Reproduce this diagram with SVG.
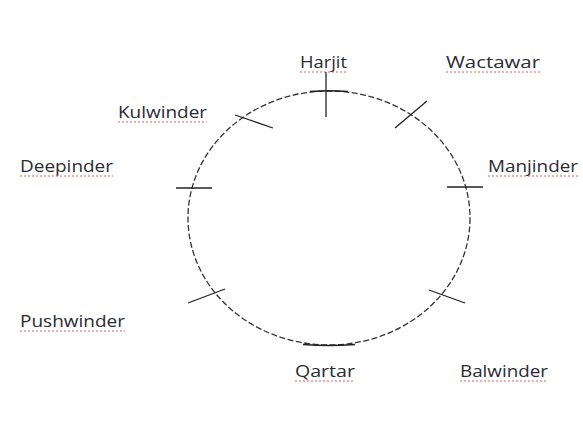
<svg xmlns="http://www.w3.org/2000/svg" width="583" height="437" viewBox="0 0 583 437">
<style>
.lbl{font-family:"Open Sans","Liberation Sans",Arial,sans-serif;font-size:16.5px;fill:#2a2a33}
.sq{stroke:#e06060;stroke-width:1;stroke-dasharray:2 2;fill:none}
.tick{stroke:#222;stroke-width:1.3;fill:none}
.ring{stroke:#333;stroke-width:1.3;fill:none;stroke-dasharray:6 2.5}
</style>
<rect width="583" height="437" fill="#fff"/>
<g id="connectors">
<ellipse class="ring" cx="329" cy="218" rx="141" ry="127"/>
<path class="tick" d="M303 344.5 Q329 346.5 355 344.5"/>
<path class="tick" d="M310 91.5 Q329 90 348 91.5"/>
</g>
<g id="Harjit"><text class="lbl" x="300" y="68" textLength="47" lengthAdjust="spacingAndGlyphs">Harjit</text><path class="sq" d="M300 72 H347"/><path class="tick" d="M326 72 V117"/></g>
<g id="Wactawar"><text class="lbl" x="446" y="68" textLength="94" lengthAdjust="spacingAndGlyphs">Wactawar</text><path class="sq" d="M446 72 H540"/><path class="tick" d="M427 101 L395 128"/></g>
<g id="Manjinder"><text class="lbl" x="488" y="172" textLength="90" lengthAdjust="spacingAndGlyphs">Manjinder</text><path class="sq" d="M488 176 H578"/><path class="tick" d="M447 187 H483"/></g>
<g id="Balwinder"><text class="lbl" x="460" y="377" textLength="88" lengthAdjust="spacingAndGlyphs">Balwinder</text><path class="sq" d="M460 381 H548"/><path class="tick" d="M429 290 L465 303"/></g>
<g id="Qartar"><text class="lbl" x="295" y="377" textLength="60" lengthAdjust="spacingAndGlyphs">Qartar</text><path class="sq" d="M295 381 H355"/></g>
<g id="Pushwinder"><text class="lbl" x="20" y="327" textLength="105" lengthAdjust="spacingAndGlyphs">Pushwinder</text><path class="sq" d="M20 331 H125"/><path class="tick" d="M188 303 L225 289"/></g>
<g id="Deepinder"><text class="lbl" x="20" y="172" textLength="93" lengthAdjust="spacingAndGlyphs">Deepinder</text><path class="sq" d="M20 176 H113"/><path class="tick" d="M176 188 H212"/></g>
<g id="Kulwinder"><text class="lbl" x="118" y="118" textLength="89" lengthAdjust="spacingAndGlyphs">Kulwinder</text><path class="sq" d="M118 122 H207"/><path class="tick" d="M235 115 L273 128"/></g>
</svg>
